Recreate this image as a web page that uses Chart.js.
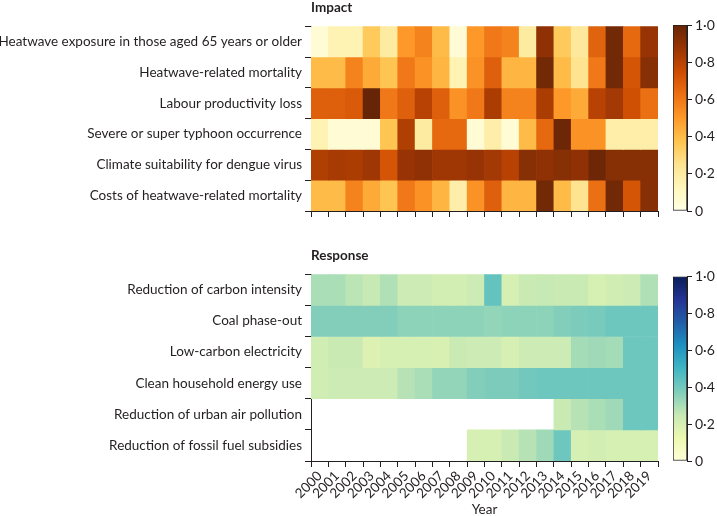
<!DOCTYPE html>
<html>
<head>
<meta charset="utf-8">
<script src="https://cdn.jsdelivr.net/npm/chart.js@4.4.1/dist/chart.umd.min.js"></script>
<style>
  html, body { margin: 0; padding: 0; background: #fff; overflow: hidden; }
  body { width: 717px; height: 516px; position: relative; }
  .box { position: absolute; }
</style>
</head>
<body>
<div class="box" style="left:0;top:0;width:662px;height:232px"><canvas id="impact"></canvas></div>
<div class="box" style="left:660px;top:0;width:57px;height:232px"><canvas id="impactBar"></canvas></div>
<div class="box" style="left:0;top:248px;width:662px;height:272px"><canvas id="response"></canvas></div>
<div class="box" style="left:660px;top:248px;width:57px;height:232px"><canvas id="responseBar"></canvas></div>
<script>
// years on the x axis
const years = ["2000", "2001", "2002", "2003", "2004", "2005", "2006", "2007", "2008", "2009",
  "2010", "2011", "2012", "2013", "2014", "2015", "2016", "2017", "2018", "2019"];

// impact indicators (0-1)
const impactRows = [
  "Heatwave exposure in those aged 65 years or older",
  "Heatwave-related mortality",
  "Labour productivity loss",
  "Severe or super typhoon occurrence",
  "Climate suitability for dengue virus",
  "Costs of heatwave-related mortality"
];
const heatExposure = [0.05, 0.15, 0.15, 0.35, 0.2, 0.5, 0.57, 0.4, 0.05, 0.5, 0.6, 0.57, 0.2, 0.9, 0.35, 0.22, 0.67, 0.97, 0.65, 0.88];
const heatMortality = [0.4, 0.4, 0.57, 0.45, 0.37, 0.6, 0.52, 0.42, 0.15, 0.52, 0.68, 0.42, 0.42, 0.97, 0.4, 0.25, 0.6, 0.97, 0.72, 0.92];
const labourLoss = [0.68, 0.68, 0.7, 1.0, 0.6, 0.68, 0.8, 0.68, 0.52, 0.6, 0.83, 0.57, 0.57, 0.83, 0.5, 0.45, 0.8, 0.85, 0.74, 0.63];
const typhoon = [0.15, 0.05, 0.05, 0.05, 0.37, 0.82, 0.2, 0.65, 0.65, 0.05, 0.18, 0.05, 0.4, 0.65, 0.98, 0.52, 0.52, 0.18, 0.18, 0.18];
const dengue = [0.82, 0.84, 0.83, 0.86, 0.72, 0.88, 0.9, 0.86, 0.86, 0.88, 0.85, 0.8, 0.92, 0.9, 0.92, 0.9, 0.98, 0.92, 0.92, 0.92];
const heatCosts = [0.4, 0.4, 0.57, 0.45, 0.37, 0.6, 0.52, 0.42, 0.18, 0.52, 0.68, 0.42, 0.42, 0.97, 0.4, 0.25, 0.63, 0.97, 0.72, 0.92];

// response indicators, null = no data
const responseRows = [
  "Reduction of carbon intensity",
  "Coal phase-out",
  "Low-carbon electricity",
  "Clean household energy use",
  "Reduction of urban air pollution",
  "Reduction of fossil fuel subsidies"
];
const carbonIntensity = [0.3, 0.3, 0.27, 0.25, 0.29, 0.23, 0.23, 0.21, 0.21, 0.23, 0.43, 0.2, 0.24, 0.25, 0.24, 0.24, 0.2, 0.22, 0.23, 0.29];
const coalPhaseOut = [0.37, 0.37, 0.37, 0.37, 0.37, 0.35, 0.35, 0.35, 0.35, 0.35, 0.34, 0.35, 0.35, 0.35, 0.37, 0.38, 0.39, 0.41, 0.41, 0.41];
const lowCarbonElec = [0.22, 0.24, 0.24, 0.18, 0.2, 0.2, 0.2, 0.19, 0.24, 0.23, 0.23, 0.2, 0.23, 0.23, 0.23, 0.31, 0.32, 0.31, 0.41, 0.41];
const cleanHousehold = [0.22, 0.23, 0.23, 0.23, 0.23, 0.28, 0.3, 0.34, 0.34, 0.37, 0.38, 0.38, 0.4, 0.41, 0.41, 0.41, 0.41, 0.41, 0.41, 0.41];
const urbanAir = [null, null, null, null, null, null, null, null, null, null, null, null, null, null, 0.24, 0.28, 0.3, 0.32, 0.41, 0.41];
const fossilSubsidies = [null, null, null, null, null, null, null, null, null, 0.2, 0.2, 0.24, 0.28, 0.32, 0.41, 0.2, 0.21, 0.2, 0.2, 0.2];

const scaleTicks = [0, 0.2, 0.4, 0.6, 0.8, 1];

// colour maps (YlOrBr / YlGnBu)
const ylOrBr = ["#ffffe5", "#fff7bc", "#fee391", "#fec44f", "#fe9929", "#ec7014", "#cc4c02", "#993404", "#662506"];
const ylGnBu = ["#ffffd9", "#edf8b1", "#c7e9b4", "#7fcdbb", "#41b6c4", "#1d91c0", "#225ea8", "#253494", "#081d58"];

const ink = "#231f20";
const labelFont = { family: "Lato", size: 13.5 };
const titleFont = { family: "Lato", size: 13.5, weight: "bold" };

function hexToRgb(h) {
  const n = parseInt(h.slice(1), 16);
  return [(n >> 16) & 255, (n >> 8) & 255, n & 255];
}

function colorAt(stops, v) {
  const t = Math.max(0, Math.min(1, v)) * (stops.length - 1);
  const i = Math.min(Math.floor(t), stops.length - 2);
  const f = t - i;
  const a = hexToRgb(stops[i]);
  const b = hexToRgb(stops[i + 1]);
  const c = a.map((x, k) => Math.round(x + (b[k] - x) * f));
  return `rgb(${c[0]},${c[1]},${c[2]})`;
}

function fmtTick(v) {
  return v === 0 ? "0" : v.toFixed(1).replace(".", "\u00b7");
}

function buildHeatmap(id, title, rowNames, rows, stops, showYears, xHeight) {
  const datasets = rows.map((values, r) => ({
    label: rowNames[r],
    data: values.map((v) => (v == null ? null : [r, r + 1])),
    backgroundColor: values.map((v) => (v == null ? "rgba(0,0,0,0)" : colorAt(stops, v))),
    borderWidth: 0,
    grouped: false,
    categoryPercentage: 1,
    barPercentage: 1,
    yAxisID: "yCells"
  }));

  return new Chart(document.getElementById(id), {
    type: "bar",
    data: { labels: years, datasets },
    options: {
      responsive: true,
      maintainAspectRatio: false,
      animation: false,
      layout: { padding: { left: 0, right: 4, top: 0, bottom: 0 } },
      plugins: {
        legend: { display: false },
        tooltip: { enabled: false },
        title: {
          display: true,
          text: title,
          align: "start",
          fullSize: false,
          color: ink,
          font: titleFont,
          padding: { top: 0, bottom: 10 }
        }
      },
      scales: {
        x: {
          type: "category",
          offset: true,
          grid: { offset: true, drawOnChartArea: false, tickLength: 6, color: ink },
          border: { color: ink },
          ticks: {
            display: showYears,
            autoSkip: false,
            minRotation: 45,
            maxRotation: 45,
            padding: 1,
            color: ink,
            font: labelFont
          },
          title: {
            display: showYears,
            text: "Year",
            color: ink,
            font: labelFont,
            padding: { top: 0, bottom: 2 }
          },
          afterFit: (s) => { s.height = xHeight; }
        },
        yCells: {
          axis: "y",
          type: "linear",
          display: false,
          min: 0,
          max: rowNames.length,
          reverse: true
        },
        yRows: {
          axis: "y",
          type: "category",
          position: "left",
          labels: rowNames,
          offset: true,
          grid: { offset: true, drawOnChartArea: false, tickLength: 6, color: ink },
          border: { color: ink },
          ticks: { color: ink, font: labelFont, padding: 3 },
          afterFit: (s) => { s.width = 311; }
        }
      }
    }
  });
}

function buildColorbar(id, stops, padTop, padBottom) {
  return new Chart(document.getElementById(id), {
    type: "bar",
    data: {
      labels: [""],
      datasets: [{
        data: [[0, 1]],
        backgroundColor: (ctx) => {
          const area = ctx.chart.chartArea;
          if (!area) return null;
          const g = ctx.chart.ctx.createLinearGradient(0, area.bottom, 0, area.top);
          stops.forEach((c, i) => g.addColorStop(i / (stops.length - 1), c));
          return g;
        },
        borderColor: ink,
        borderWidth: 1,
        borderSkipped: false,
        categoryPercentage: 1,
        barPercentage: 1
      }]
    },
    options: {
      responsive: true,
      maintainAspectRatio: false,
      animation: false,
      layout: { padding: { left: 13, right: 0, top: padTop, bottom: padBottom } },
      plugins: { legend: { display: false }, tooltip: { enabled: false } },
      scales: {
        x: { display: false },
        y: {
          position: "right",
          min: 0,
          max: 1,
          afterBuildTicks: (s) => { s.ticks = scaleTicks.map((v) => ({ value: v })); },
          grid: { drawOnChartArea: false, tickLength: 5, color: ink },
          border: { color: ink },
          ticks: { color: ink, font: { family: "Lato", size: 14 }, padding: 3, callback: (v) => fmtTick(v) },
          afterFit: (s) => { s.width = 30; }
        }
      }
    }
  });
}

buildHeatmap("impact", "Impact", impactRows,
  [heatExposure, heatMortality, labourLoss, typhoon, dengue, heatCosts], ylOrBr, false, 21);
buildHeatmap("response", "Response", responseRows,
  [carbonIntensity, coalPhaseOut, lowCarbonElec, cleanHousehold, urbanAir, fossilSubsidies], ylGnBu, true, 59);
buildColorbar("impactBar", ylOrBr, 25, 21);
buildColorbar("responseBar", ylGnBu, 28.5, 19);
</script>
</body>
</html>
